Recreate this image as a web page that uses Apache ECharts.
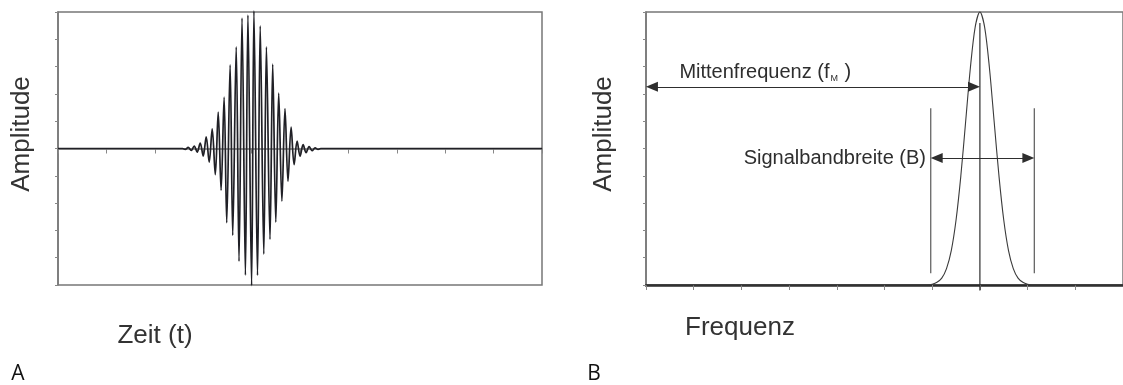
<!DOCTYPE html>
<html>
<head>
<meta charset="utf-8">
<script src="https://cdn.jsdelivr.net/npm/echarts@6/dist/echarts.min.js"></script>
<style>
  html, body { margin: 0; padding: 0; background: #fff; }
  #chart { width: 1123px; height: 385px; }
</style>
</head>
<body>
<div id="chart"></div>
<script>
// Zeitsignal: Wellenpaket, Extremwerte entlang der Zeitachse (0..10)
const pulseTime = [0, 2.576, 2.628, 2.690, 2.752, 2.814, 2.876, 2.938, 3.000, 3.062, 3.124,
  3.186, 3.250, 3.310, 3.370, 3.432, 3.486, 3.556, 3.610, 3.682, 3.740,
  3.802, 3.872, 3.924, 4.000, 4.048, 4.122, 4.178, 4.252, 4.306, 4.380,
  4.436, 4.500, 4.560, 4.626, 4.690, 4.752, 4.816, 4.878, 4.940, 5.002,
  5.064, 5.126, 5.188, 5.250, 5.312, 5.374, 5.428, 10];
const pulseAmp = [0, 0, -0.03, 0.04, -0.07, 0.09, -0.13, 0.20, -0.28, 0.43, -0.50,
  0.72, -0.96, 1.33, -1.53, 1.88, -2.72, 3.06, -3.18, 3.72, -4.13,
  4.78, -4.64, 4.89, -5.02, 5.04, -4.65, 4.49, -3.87, 3.72, -3.33,
  3.09, -2.70, 2.03, -1.93, 1.46, -1.20, 0.78, -0.59, 0.27, -0.28,
  0.14, -0.15, 0.07, -0.08, 0.02, -0.03, 0, 0];

// Spektrum: Amplitude über der Frequenz (0..10), Maximum bei der Mittenfrequenz
const freq = [0, 5.9, 6.0, 6.1, 6.2, 6.3, 6.4, 6.5, 6.6, 6.7, 6.8, 6.9, 7.0,
  7.1, 7.2, 7.3, 7.4, 7.5, 7.6, 7.7, 7.8, 7.9, 8.0, 8.1, 10];
const spectrum = [0, 0, 0.03, 0.10, 0.25, 0.60, 1.26, 2.38, 3.99, 5.96, 7.95, 9.44, 10,
  9.44, 7.95, 5.96, 3.99, 2.38, 1.26, 0.60, 0.25, 0.10, 0.03, 0, 0];

// Kennwerte für die Beschriftung im Spektrum
const centerFreq = 7;
const centerLineTop = 9.6;
const bandEdges = [5.97, 8.14];
const bandLineRange = [0.43, 6.47];
const centerArrowLevel = 7.26;
const bandArrowLevel = 4.65;
const labelCenter = 'Mittenfrequenz (f';
const labelCenterSub = 'M';
const labelBand = 'Signalbandbreite (B)';

const textFont = 'Liberation Sans, Arial, sans-serif';
const lineGray = '#777';
const ink = '#2e2e2e';
// halbe Pfeilspitzenlänge in Achseneinheiten (Spitze endet genau am Zielpunkt)
const headInset = 0.124;

const chart = echarts.init(document.getElementById('chart'), null, { renderer: 'canvas' });

const pulseData = pulseTime.map((t, i) => [t, pulseAmp[i]]);
const spectrumData = freq.map((f, i) => [f, spectrum[i]]);

function xAxisFor(gridIndex, lineColor, lineWidth) {
  return {
    type: 'value', gridIndex, min: 0, max: 10, interval: 1,
    axisLine: { show: true, lineStyle: { color: lineColor, width: lineWidth } },
    axisTick: { show: true, length: 5, lineStyle: { color: '#888', width: 1 } },
    axisLabel: { show: false },
    splitLine: { show: false }
  };
}
function yAxisFor(gridIndex, min, max) {
  return {
    type: 'value', gridIndex, min, max, interval: 1,
    axisLine: { show: true, lineStyle: { color: lineGray, width: 1.5 } },
    axisTick: { show: true, length: 3, lineStyle: { color: '#888', width: 1 } },
    axisLabel: { show: false },
    splitLine: { show: false }
  };
}

chart.setOption({
  animation: false,
  backgroundColor: '#fff',
  grid: [
    { left: 58, top: 12, width: 484, height: 273, show: true, borderColor: lineGray, borderWidth: 1.5 },
    { left: 646, top: 12, width: 484, height: 273, show: true, borderColor: lineGray, borderWidth: 1.5 }
  ],
  xAxis: [xAxisFor(0, lineGray, 1.5), xAxisFor(1, '#2a2a2a', 2.5)],
  yAxis: [yAxisFor(0, -5, 5), yAxisFor(1, 0, 10)],
  series: [
    {
      name: 'Zeitsignal', type: 'line', xAxisIndex: 0, yAxisIndex: 0,
      data: pulseData, showSymbol: false, smooth: 0.35, clip: false,
      lineStyle: { color: '#202026', width: 1.7 }
    },
    {
      name: 'Spektrum', type: 'line', xAxisIndex: 1, yAxisIndex: 1,
      data: spectrumData, showSymbol: false, smooth: 0.3, clip: false,
      lineStyle: { color: '#3a3a3a', width: 1.1 },
      markLine: {
        silent: true, symbol: ['triangle', 'triangle'], symbolSize: [10, 12],
        label: { show: false },
        lineStyle: { color: ink, width: 1.2, type: 'solid' },
        data: [
          [{ coord: [headInset, centerArrowLevel] }, { coord: [centerFreq - headInset, centerArrowLevel] }],
          [{ coord: [bandEdges[0] + headInset, bandArrowLevel] }, { coord: [bandEdges[1] - headInset, bandArrowLevel] }]
        ]
      },
      markPoint: {
        silent: true, symbol: 'circle', symbolSize: 0,
        data: [
          {
            coord: [0.7, 7.85],
            label: {
              show: true, position: 'right', distance: 0,
              formatter: '{a|' + labelCenter + '}{s|' + labelCenterSub + '}{a| )}',
              rich: {
                a: { fontFamily: textFont, fontSize: 20, color: ink, lineHeight: 24, verticalAlign: 'bottom' },
                s: { fontFamily: textFont, fontSize: 9, color: ink, lineHeight: 24, verticalAlign: 'bottom', padding: [0, 1, 0, 1] }
              }
            }
          },
          {
            coord: [5.87, 4.62],
            label: {
              show: true, position: 'left', distance: 0,
              formatter: labelBand,
              fontFamily: textFont, fontSize: 20, color: ink
            }
          }
        ]
      }
    },
    {
      name: 'Mittenfrequenz', type: 'line', xAxisIndex: 1, yAxisIndex: 1,
      data: [[centerFreq, -0.2], [centerFreq, centerLineTop]], showSymbol: false, clip: false,
      lineStyle: { color: ink, width: 1.2 }
    },
    {
      name: 'Bandgrenze unten', type: 'line', xAxisIndex: 1, yAxisIndex: 1,
      data: [[bandEdges[0], bandLineRange[0]], [bandEdges[0], bandLineRange[1]]], showSymbol: false,
      lineStyle: { color: '#4a4a4a', width: 1.1 }
    },
    {
      name: 'Bandgrenze oben', type: 'line', xAxisIndex: 1, yAxisIndex: 1,
      data: [[bandEdges[1], bandLineRange[0]], [bandEdges[1], bandLineRange[1]]], showSymbol: false,
      lineStyle: { color: '#4a4a4a', width: 1.1 }
    }
  ],
  graphic: [
    { type: 'text', x: 21.5, y: 134, rotation: Math.PI / 2,
      style: { text: 'Amplitude', font: '26px ' + textFont, fill: '#333', align: 'center', verticalAlign: 'middle' } },
    { type: 'text', x: 604, y: 134, rotation: Math.PI / 2,
      style: { text: 'Amplitude', font: '26px ' + textFont, fill: '#333', align: 'center', verticalAlign: 'middle' } },
    { type: 'text', x: 155, y: 336,
      style: { text: 'Zeit (t)', font: '26px ' + textFont, fill: '#333', align: 'center', verticalAlign: 'middle' } },
    { type: 'text', x: 740, y: 328,
      style: { text: 'Frequenz', font: '26px ' + textFont, fill: '#333', align: 'center', verticalAlign: 'middle' } },
    { type: 'text', x: 18, y: 374,
      style: { text: 'A', font: '21px "Open Sans", sans-serif', fill: '#111', align: 'center', verticalAlign: 'middle' } },
    { type: 'text', x: 594, y: 374,
      style: { text: 'B', font: '21px "Open Sans", sans-serif', fill: '#111', align: 'center', verticalAlign: 'middle' } }
  ]
});
</script>
</body>
</html>
